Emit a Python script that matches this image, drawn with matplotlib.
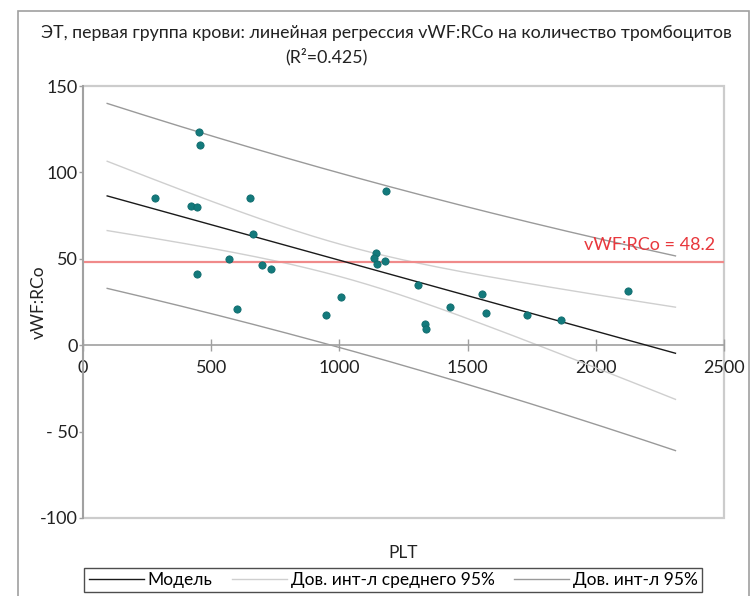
import numpy as np
import matplotlib
matplotlib.use("Agg")
import matplotlib.pyplot as plt
from matplotlib.patches import Rectangle
from matplotlib.lines import Line2D

plt.rcParams['font.family'] = ['Lato', 'DejaVu Sans']

# ---- data ----
plt_counts = [452, 455, 279, 420, 443, 652, 662, 568, 443, 700, 732, 600, 947, 1006,
              1183, 1141, 1134, 1146, 1177, 1306, 1334, 1338, 1433, 1557, 1572, 1731,
              1864, 2126]
vwf_rco = [123.1, 115.7, 85.2, 80.4, 79.7, 85.2, 64.4, 49.9, 41.3, 46.7, 44.2, 21.0,
           17.2, 28.0, 89.1, 53.6, 50.7, 46.9, 48.6, 34.7, 12.5, 9.3, 22.2, 29.7,
           18.7, 17.2, 14.3, 31.2]
ref_value = 48.2
x_ticks = [0, 500, 1000, 1500, 2000, 2500]
y_ticks = [-100, -50, 0, 50, 100, 150]
y_tick_labels = ['-100', '- 50', '0', '50', '100', '150']
t_crit = 2.056  # t(0.975, df=26)

title_line1 = 'ЭТ, первая группа крови: линейная регрессия vWF:RCo на количество тромбоцитов'
title_line2 = '(R²=0.425)'
legend_labels = ['Модель', 'Дов. инт-л среднего 95%', 'Дов. инт-л 95%']

# ---- regression ----
x = np.array(plt_counts, float)
y = np.array(vwf_rco, float)
n = len(x)
xm, ym = x.mean(), y.mean()
sxx = ((x - xm) ** 2).sum()
b = ((x - xm) * (y - ym)).sum() / sxx
a = ym - b * xm
resid = y - (a + b * x)
s = np.sqrt((resid ** 2).sum() / (n - 2))
rng = x.max() - x.min()
xs = np.linspace(x.min() - 0.1 * rng, x.max() + 0.1 * rng, 200)
fit = a + b * xs
se_m = s * np.sqrt(1 / n + (xs - xm) ** 2 / sxx)
se_p = s * np.sqrt(1 + 1 / n + (xs - xm) ** 2 / sxx)

# ---- figure ----
fig = plt.figure(figsize=(7.52, 5.96), dpi=100)
ax = fig.add_axes([83 / 752, 1 - 518 / 596, (724 - 83) / 752, (518 - 86) / 596])

c_model = '#1a1a1a'
c_mean = '#cfcfcf'
c_pred = '#9a9a9a'

ax.plot(xs, fit, color=c_model, lw=1.0, zorder=3)
ax.plot(xs, fit + t_crit * se_m, color=c_mean, lw=1.0, zorder=2)
ax.plot(xs, fit - t_crit * se_m, color=c_mean, lw=1.0, zorder=2)
ax.plot(xs, fit + t_crit * se_p, color=c_pred, lw=1.0, zorder=2)
ax.plot(xs, fit - t_crit * se_p, color=c_pred, lw=1.0, zorder=2)
ax.axhline(ref_value, color='#f08a8a', lw=1.6, zorder=2)
ax.plot(x, y, 'o', color='#137a7c', ms=5.2, mec='#0f6a6c', mew=0.6, zorder=4)

ax.text(2465, ref_value + 5, f'vWF:RCo = {ref_value}', color='#e8383d',
        fontsize=13, ha='right', va='bottom')

ax.set_xlim(0, 2500)
ax.set_ylim(-100, 150)
ax.set_xticks(x_ticks)
ax.set_xticklabels([str(v) for v in x_ticks])
ax.set_yticks(y_ticks)
ax.set_yticklabels(y_tick_labels)

for sp in ['top', 'right']:
    ax.spines[sp].set_visible(False)
ax.spines['bottom'].set_position(('data', 0))
ax.spines['bottom'].set_color('#a0a0a0')
ax.spines['left'].set_color('#a0a0a0')
ax.spines['left'].set_linewidth(1.4)
ax.spines['bottom'].set_linewidth(1.2)
ax.add_patch(Rectangle((0, 0), 1, 1, transform=ax.transAxes, fill=False,
                       edgecolor='#cccccc', lw=1.6, zorder=0.5, clip_on=False))

ax.tick_params(axis='x', direction='inout', length=9, color='#a0a0a0', width=1,
               labelsize=13, pad=6, labelcolor='#222222')
ax.tick_params(axis='y', direction='out', length=3, color='#a0a0a0', width=1,
               labelsize=13, pad=0.5, labelcolor='#222222')

ax.set_xlabel('PLT', fontsize=12.5, color='#222222')
ax.xaxis.set_label_coords(0.5, -0.062)
ax.set_ylabel('vWF:RCo', fontsize=12.5, color='#222222')
ax.yaxis.set_label_coords(-0.056, 0.5)

fig.text(386 / 752, 1 - 33 / 596, title_line1, ha='center', va='center', fontsize=12.8, color='#222222')
fig.text(326 / 752, 1 - 57 / 596, title_line2, ha='center', va='center', fontsize=12.8, color='#222222')

# outer chart frame
fig.add_artist(Rectangle((18 / 752, -0.02), (749 - 18) / 752, 1 - 11 / 596 + 0.02,
                         transform=fig.transFigure, fill=False, edgecolor='#a0a0a0', lw=1.2))

handles = [Line2D([], [], color=c_model, lw=1.0),
           Line2D([], [], color=c_mean, lw=1.0),
           Line2D([], [], color=c_pred, lw=1.0)]
leg = fig.legend(handles, legend_labels, loc='center', bbox_to_anchor=(393 / 752, 1 - 580 / 596),
                 ncol=3, fontsize=12.5, frameon=True, fancybox=False, edgecolor='#222222',
                 handlelength=3.2, handletextpad=0.2, columnspacing=1.1, borderpad=0.25,
                 borderaxespad=0)
leg.get_frame().set_linewidth(1.0)

fig.savefig('out.png', dpi=100)
